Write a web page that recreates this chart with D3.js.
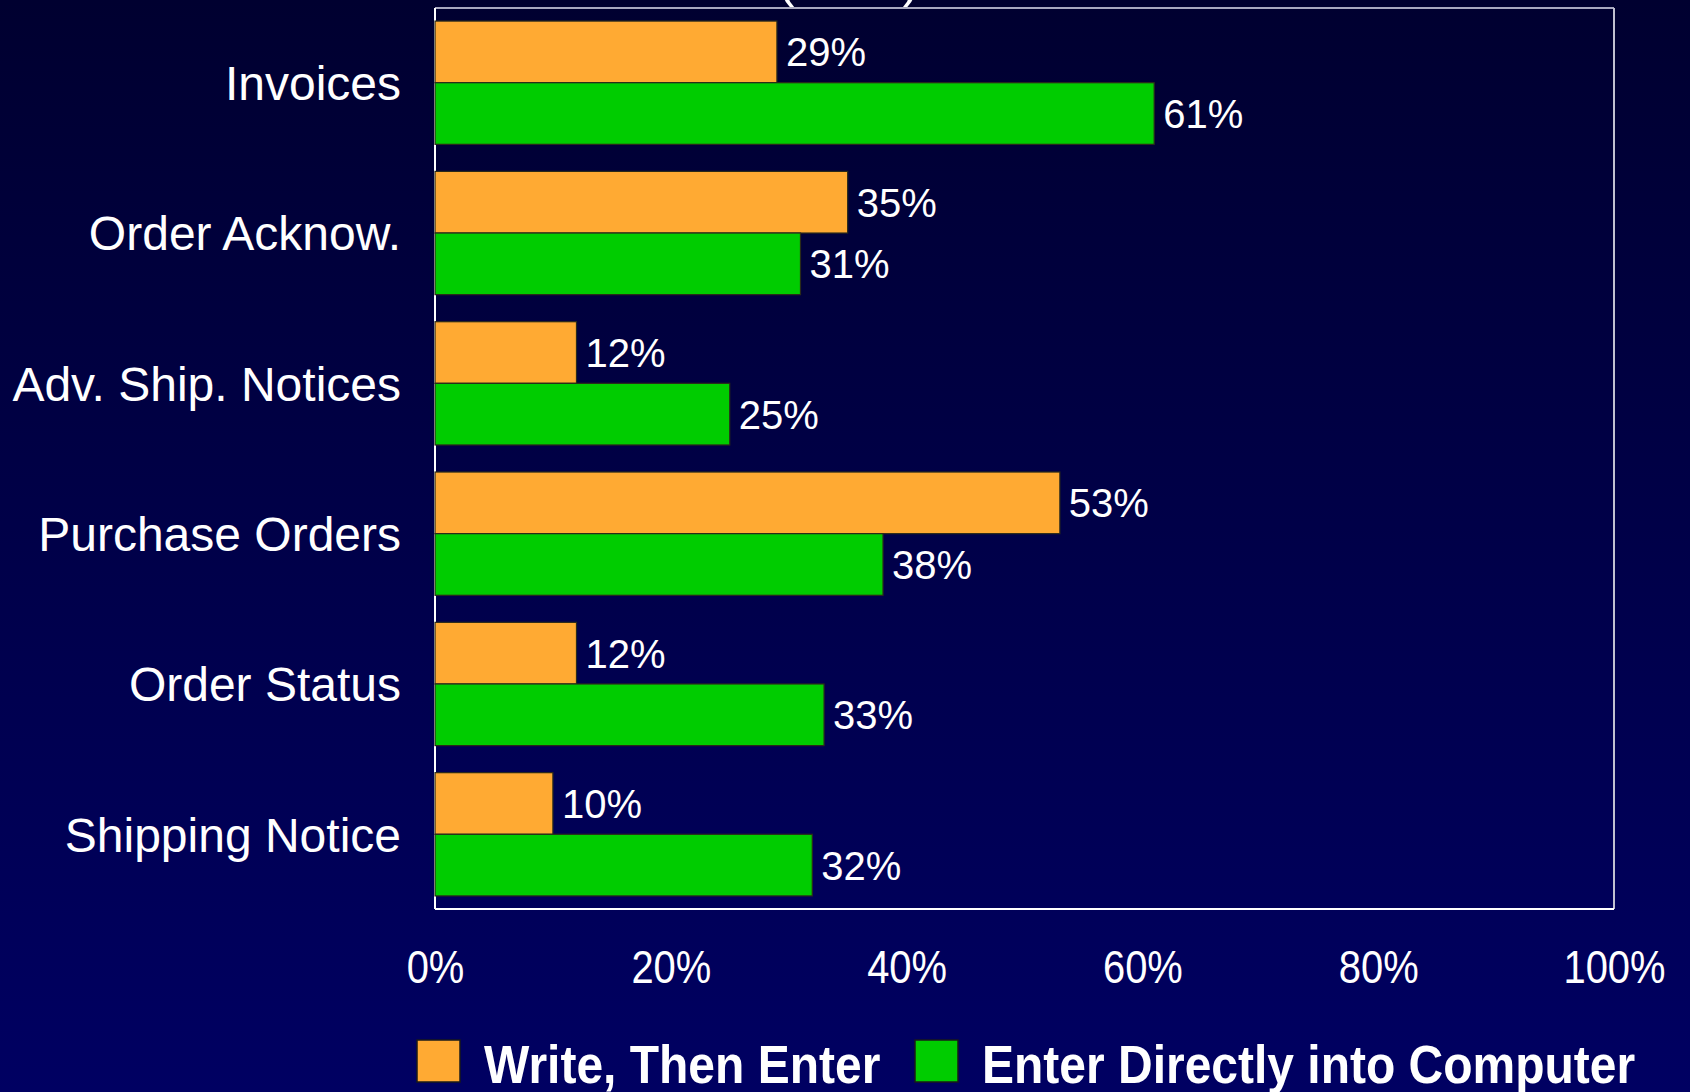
<!DOCTYPE html>
<html><head><meta charset="utf-8">
<script src="https://cdn.jsdelivr.net/npm/d3@7"></script>
<style>html,body{margin:0;padding:0;background:#000040;}svg{display:block;}</style>
</head><body>
<svg id="chart" width="1690" height="1092"></svg>
<script>
const categories = ["Invoices","Order Acknow.","Adv. Ship. Notices","Purchase Orders","Order Status","Shipping Notice"];
const seriesNames = ["Write, Then Enter","Enter Directly into Computer"];
const writeThenEnter = [29,35,12,53,12,10];
const enterDirectly = [61,31,25,38,33,32];
const tickValues = [0,20,40,60,80,100];
const colors = ["#FFAA33","#00CC00"];

const svg = d3.select("#chart");
const W = 1690, H = 1092;
const defs = svg.append("defs");
const grad = defs.append("linearGradient").attr("id","bg").attr("x1",0).attr("y1",0).attr("x2",0).attr("y2",1);
grad.append("stop").attr("offset","0%").attr("stop-color","#000030");
grad.append("stop").attr("offset","100%").attr("stop-color","#000062");
svg.append("rect").attr("width",W).attr("height",H).attr("fill","url(#bg)");

const m = {left:435, right:1614, top:8, bottom:909};
const x = d3.scaleLinear().domain([0,100]).range([m.left,m.right]);
const y = d3.scaleBand().domain(categories).range([m.top,m.bottom]).paddingInner(0.18).paddingOuter(0.087);
const sub = d3.scaleBand().domain([0,1]).range([0,y.bandwidth()]);

const font = "'Liberation Sans', Arial, Helvetica, sans-serif";

// cut-off title tails (parentheses) at the very top
svg.append("text").attr("x",786).attr("y",-3).attr("text-anchor","middle")
  .attr("fill","#ffffff").attr("font-family",font).attr("font-size",50).text("(");
svg.append("text").attr("x",911).attr("y",-3).attr("text-anchor","middle")
  .attr("fill","#ffffff").attr("font-family",font).attr("font-size",50).text(")");

// plot frame
svg.append("line").attr("x1",m.left).attr("x2",m.right).attr("y1",m.top).attr("y2",m.top).attr("stroke","#a8a8c0").attr("stroke-width",2);
svg.append("line").attr("x1",m.right).attr("x2",m.right).attr("y1",m.top).attr("y2",m.bottom).attr("stroke","#c0c0d0").attr("stroke-width",2);
svg.append("line").attr("x1",m.left).attr("x2",m.right).attr("y1",m.bottom).attr("y2",m.bottom).attr("stroke","#ffffff").attr("stroke-width",2);
svg.append("line").attr("x1",m.left).attr("x2",m.left).attr("y1",m.top).attr("y2",m.bottom).attr("stroke","#ffffff").attr("stroke-width",2);

const series = [writeThenEnter, enterDirectly];
const g = svg.append("g");
series.forEach((vals, si) => {
  g.selectAll(".bar"+si).data(categories).enter().append("rect")
    .attr("x", x(0))
    .attr("y", (c) => y(c) + sub(si))
    .attr("width", (c,i) => x(vals[i]) - x(0))
    .attr("height", sub.bandwidth())
    .attr("fill", colors[si])
    .attr("stroke", "#2a2a1a").attr("stroke-width", 1.2);
  g.selectAll(".lab"+si).data(categories).enter().append("text")
    .attr("x", (c,i) => x(vals[i]) + 9)
    .attr("y", (c) => y(c) + sub(si) + sub.bandwidth()/2)
    .attr("dy","0.36em")
    .attr("fill","#ffffff").attr("font-family",font).attr("font-size",40)
    .text((c,i) => vals[i] + "%");
});

// category labels
svg.append("g").selectAll("text").data(categories).enter().append("text")
  .attr("x", 401).attr("y", c => y(c) + y.bandwidth()/2)
  .attr("dy","0.36em").attr("text-anchor","end")
  .attr("fill","#ffffff").attr("font-family",font).attr("font-size",48)
  .text(c => c);

// x axis tick labels
const xAxis = d3.axisBottom(x).tickValues(tickValues).tickFormat(d => d + "%").tickSize(0).tickPadding(0);
const ax = svg.append("g").attr("transform","translate(0,985)").call(xAxis);
ax.select(".domain").remove();
ax.selectAll("text").attr("fill","#ffffff").attr("font-family",font).attr("font-size",42).attr("dy",0).attr("y",0);
ax.selectAll(".tick text").each(function(){ d3.select(this).attr("transform","translate(0,-2) scale(0.95,1.1)"); });

// legend
const legX = [417, 915];
const leg = svg.append("g");
seriesNames.forEach((name, i) => {
  leg.append("rect").attr("x", legX[i]).attr("y", 1040).attr("width", 43).attr("height", 42)
    .attr("fill", colors[i]).attr("stroke","#1a1a1a").attr("stroke-width",1.5);
  leg.append("text").attr("transform",`translate(${legX[i]+67},1083) scale(1,1.1)`)
    .attr("fill","#ffffff").attr("font-family",font).attr("font-weight","bold").attr("font-size",48)
    .text(name);
});
</script>
</body></html>
